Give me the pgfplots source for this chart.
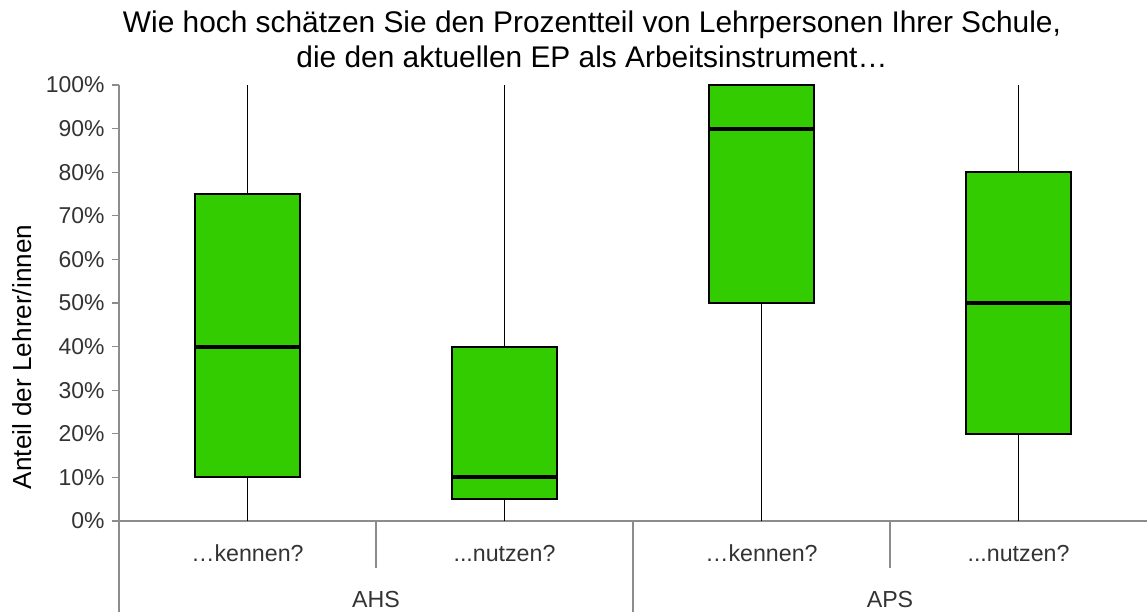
\documentclass[border=0pt]{standalone}
\usepackage{fontspec}
\setmainfont{Liberation Sans}
\usepackage{pgfplots}
\pgfplotsset{compat=1.18}
\usepgfplotslibrary{statistics}
\definecolor{boxgreen}{HTML}{33CC00}
\definecolor{axgray}{HTML}{8C8C8C}
\definecolor{txtgray}{HTML}{333333}
\begin{document}
\begin{tikzpicture}
\begin{axis}[
  width=771pt, height=327pt, scale only axis,
  xmin=-0.5, xmax=3.5, ymin=0, ymax=100,
  clip=false,
  axis lines=left,
  axis line style={-, axgray, line width=1pt},
  xtick=\empty,
  ytick={0,10,...,100},
  tick align=outside,
  major tick length=5.25pt,
  tick style={axgray, line width=1pt},
  yticklabel={\pgfmathprintnumber{\tick}\%},
  /pgf/number format/assume math mode=true,
  yticklabel style={font=\fontsize{17.2}{20}\selectfont, text=txtgray, xshift=-2pt},
  boxplot/draw direction=y,
  boxplot/every box/.style={line width=1.5pt},
  boxplot/every median/.style={line width=2.9pt},
  boxplot/every whisker/.style={line width=1.3pt},
]
\addplot[draw=black, fill=boxgreen,
  boxplot prepared={draw position=0, lower whisker=0, lower quartile=10, median=40, upper quartile=75, upper whisker=100, box extend=0.405, whisker extend=0}] coordinates {};
\addplot[draw=black, fill=boxgreen,
  boxplot prepared={draw position=1, lower whisker=0, lower quartile=5, median=10, upper quartile=40, upper whisker=100, box extend=0.405, whisker extend=0}] coordinates {};
\addplot[draw=black, fill=boxgreen,
  boxplot prepared={draw position=2, lower whisker=0, lower quartile=50, median=90, upper quartile=100, upper whisker=100, box extend=0.405, whisker extend=0}] coordinates {};
\addplot[draw=black, fill=boxgreen,
  boxplot prepared={draw position=3, lower whisker=0, lower quartile=20, median=50, upper quartile=80, upper whisker=100, box extend=0.405, whisker extend=0}] coordinates {};
\coordinate (O) at (axis cs:-0.5,0);
\coordinate (C0) at (axis cs:0,0);
\coordinate (C1) at (axis cs:1,0);
\coordinate (C2) at (axis cs:2,0);
\coordinate (C3) at (axis cs:3,0);
\coordinate (S1) at (axis cs:0.5,0);
\coordinate (S2) at (axis cs:1.5,0);
\coordinate (S3) at (axis cs:2.5,0);
\end{axis}
% separators
\draw[axgray, line width=1pt] (O) -- ++(0,-68.25pt);
\draw[axgray, line width=1pt] (S2) -- ++(0,-68.25pt);
\draw[axgray, line width=1pt] (S1) -- ++(0,-35.25pt);
\draw[axgray, line width=1pt] (S3) -- ++(0,-35.25pt);
% category labels
\node[anchor=base, font=\fontsize{17.4}{20}\selectfont, text=txtgray] at ([yshift=-30.5pt]C0) {…kennen?};
\node[anchor=base, font=\fontsize{17.4}{20}\selectfont, text=txtgray] at ([yshift=-30.5pt]C1) {...nutzen?};
\node[anchor=base, font=\fontsize{17.4}{20}\selectfont, text=txtgray] at ([yshift=-30.5pt]C2) {…kennen?};
\node[anchor=base, font=\fontsize{17.4}{20}\selectfont, text=txtgray] at ([yshift=-30.5pt]C3) {...nutzen?};
\node[anchor=base, font=\fontsize{17.4}{20}\selectfont, text=txtgray] at ([yshift=-65pt]S1) {AHS};
\node[anchor=base, font=\fontsize{17.4}{20}\selectfont, text=txtgray] at ([yshift=-65pt]S3) {APS};
% y label
\node[rotate=90, font=\fontsize{19.6}{22}\selectfont] at ([shift={(-72.75pt,123pt)}]O) {Anteil der Lehrer/innen};
% title
\node[anchor=north, align=center, font=\fontsize{22.4}{26.5}\selectfont, inner sep=0pt] at ([shift={(354.75pt,383pt)}]O) {Wie hoch schätzen Sie den Prozentteil von Lehrpersonen Ihrer Schule,\\die den aktuellen EP als Arbeitsinstrument…};
% bounding box
\pgfresetboundingbox
\path ([shift={(-89.25pt,-68.25pt)}]O) rectangle ([shift={(771pt,390.75pt)}]O);
\end{tikzpicture}
\end{document}
